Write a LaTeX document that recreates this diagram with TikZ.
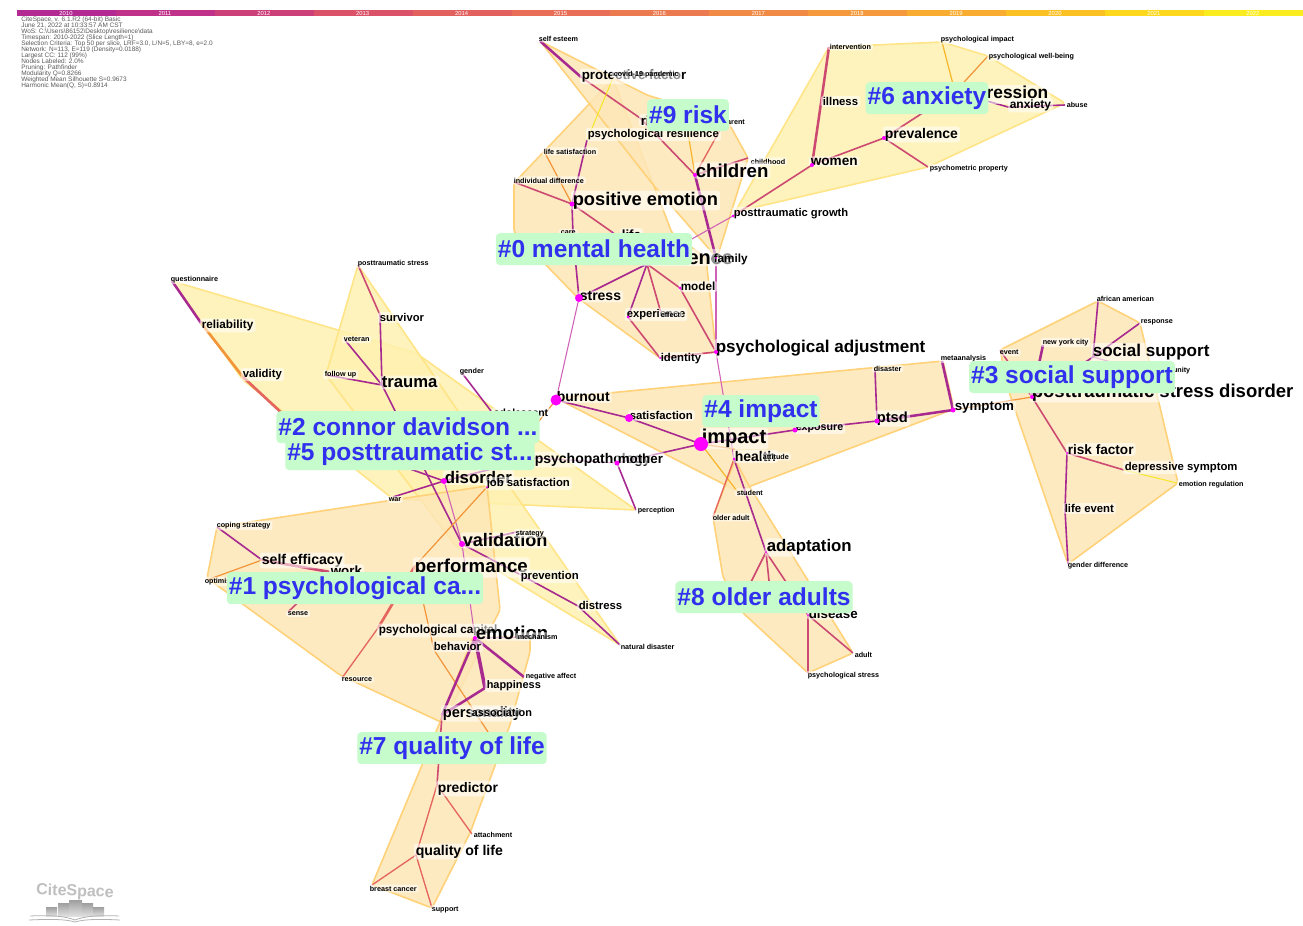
\documentclass[tikz,border=0pt]{standalone}
\usepackage{fontspec}
\setmainfont{Liberation Sans}
\usetikzlibrary{calc}
\definecolor{ePur}{HTML}{A82A90}
\definecolor{eMag}{HTML}{B83088}
\definecolor{eRed}{HTML}{CC4A72}
\definecolor{eCor}{HTML}{E4665C}
\definecolor{eOra}{HTML}{F29438}
\definecolor{eAmb}{HTML}{F8B52A}
\definecolor{eYel}{HTML}{F6E61E}
\definecolor{ePnk}{HTML}{CF62B6}
\definecolor{hullO}{HTML}{FDE6B6}
\definecolor{hullY}{HTML}{FEF1B0}
\definecolor{lineO}{HTML}{FFD27A}
\definecolor{lineY}{HTML}{FFE587}
\definecolor{tagBg}{HTML}{C6FBCB}
\definecolor{tagFg}{HTML}{3030EE}
\definecolor{dotM}{RGB}{255,0,255}
\tikzset{
  hullo/.style={fill=hullO,fill opacity=.85,draw=lineO,line width=1.2pt,line join=round,rounded corners=2pt},
  hully/.style={fill=hullY,fill opacity=.85,draw=lineY,line width=1.2pt,line join=round,rounded corners=2pt},
  dotn/.style={circle,fill=dotM,inner sep=0pt,minimum size=#1},
  tx/.style={font=\bfseries\fontsize{#1}{#1}\selectfont,anchor=west,inner xsep=1.5pt,inner ysep=1pt,text=black,fill=white,fill opacity=.55,text opacity=1,rounded corners=2pt,xshift=-1.1pt,yshift=-1.1pt},
  tag/.style={font=\bfseries\fontsize{18.4}{20}\selectfont,fill=tagBg,text=tagFg,rounded corners=3pt,inner xsep=1.5pt,inner ysep=0pt,minimum height=24pt,yshift=-.9pt},
  tick/.style={font=\fontsize{4.4}{4.4}\selectfont,text=white,inner sep=0pt},
  info/.style={font=\fontsize{4.85}{4.85}\selectfont,text=black!65,anchor=west,inner sep=0pt},
  ep/.style={ePur,line width=1.2pt},
  eP/.style={ePur,line width=1.9pt},
  er/.style={eRed,line width=1.2pt},
  eR/.style={eCor,line width=2pt},
  ec/.style={eCor,line width=1pt},
  eo/.style={eOra,line width=.9pt},
  ea/.style={eAmb,line width=.9pt},
  ey/.style={eYel,line width=.7pt},
  ek/.style={ePnk,line width=.8pt},
}
\begin{document}
\begin{tikzpicture}[x=0.75pt,y=-0.75pt]
\useasboundingbox (0,0) rectangle (1303,925);
% timeline
\foreach \i/\c/\yy in {0/B22A92/2010,1/C0318A/2011,2/CC3F78/2012,3/DA5168/2013,4/E2605E/2014,5/E86E58/2015,6/EC7A50/2016,7/F08A45/2017,8/F49A3C/2018,9/F8AC30/2019,10/FBC024/2020,11/FDD81C/2021,12/FBEC20/2022}{
  \definecolor{segc}{HTML}{\c}
  \fill[segc] ({17+98.9*\i},9.5) rectangle ({17+98.9*(\i+1)},16);
  \node[tick] (yr\yy) at ({66+98.9*\i},13) {\yy};
}
% info
\node[info] (i1) at (21,19.5) {CiteSpace, v. 6.1.R2 (64-bit) Basic};
\node[info] (i2) at (21,25.5) {June 21, 2022 at 10:33:57 AM CST};
\node[info] (i3) at (21,31.5) {WoS: C:\textbackslash Users\textbackslash 86152\textbackslash Desktop\textbackslash resilience\textbackslash data};
\node[info] (i4) at (21,37.5) {Timespan: 2010-2022 (Slice Length=1)};
\node[info] (i5) at (21,43.5) {Selection Criteria: Top 50 per slice, LRF=3.0, L/N=5, LBY=8, e=2.0};
\node[info] (i6) at (21,49.5) {Network: N=113, E=119 (Density=0.0188)};
\node[info] (i7) at (21,55.5) {Largest CC: 112 (99\%)};
\node[info] (i8) at (21,61.5) {Nodes Labeled: 2.0\%};
\node[info] (i9) at (21,67.5) {Pruning: Pathfinder};
\node[info] (i10) at (21,73.5) {Modularity Q=0.8266};
\node[info] (i11) at (21,79.5) {Weighted Mean Silhouette S=0.9673};
\node[info] (i12) at (21,85.5) {Harmonic Mean(Q, S)=0.8914};
% hulls
\draw[hully] (172,281)--(416,353)--(636,510)--(393,499)--(243,380)--cycle;
\draw[hully] (358,265)--(510,487)--(620,645)--(455,545)--(326,375)--cycle;
\draw[hullo] (217,527)--(393,500)--(487,486)--(500,610)--(443,723)--(340,675)--(207,578)--cycle;
\draw[hullo] (473,637)--(530,637)--(530,652)--(510,725)--(470,833)--(432,908)--(372,885)--(440,722)--cycle;
\draw[hullo] (613,79)--(514,183)--(514,232)--(578,298)--(660,358)--(716,352)--(706,258)--(672,233)--cycle;
\draw[hullo] (540,41)--(647,95)--(727,120)--(748,158)--(717,258)--(655,187)--cycle;
\draw[hully] (735,212)--(829,47)--(942,42)--(988,56)--(1065,103)--(928,167)--cycle;
\draw[hullo] (1000,350)--(1098,301)--(1140,323)--(1178,483)--(1068,564)--(1010,395)--cycle;
\draw[hullo] (556,398)--(943,361)--(954,409)--(748,487)--(737,491)--cycle;
\draw[hullo] (735,460)--(748,484)--(853,653)--(808,673)--(742,612)--(723,577)--(713,517)--cycle;
% free ends
\coordinate (hidA) at (530,432);
\coordinate (hidB) at (490,735);
\coordinate (hidC) at (742,600);
\coordinate (hidD) at (771,600);
\coordinate (hidE) at (300,430);
\coordinate (psyresEnd) at (688,133);
% edges (named points first, drawn beneath dots)
\foreach \n/\x/\y in {
 selfesteem/540/41, protective/581/77, risk/640/118, children/695/175, family/716/258, psyres/587/140, childhood/748/158, parent/720/130, covid/613/78,
 posemo/572/204, lifesat/545/153, inddiff/514/182, care/573/235, life/612/232, resil/647/264, stress/579/298, model/680/288, experience/628/317, effect/661/313, identity/660/358, psyadj/716/352,
 postgrowth/733/216, women/812/165, illness/821/103, intervention/829/47, prevalence/884/138, psychometric/928/167, depression/955/92, anxiety/1008/107, abuse/1065/105, psyimpact/942/42, wellbeing/988/56,
 burnout/556/400, satisfaction/629/418, impact/701/444, exposure/795/430, ptsd/877/421, disaster/875/370, symptom/953/410, meta/942/361, health/734/459, attitude/735/449, student/737/491, olderadult/713/517, adaptation/766/552, disease/808/615, adult/853/653, psystress/808/673,
 ptsdis/1032/397, riskfac/1067/453, lifeevent/1065/510, gender2/1068/564, depsym/1124/470, emoreg/1177/483, socsup/1093/357, afram/1098/301, response/1140/323, nyc/1043/345, event/1000/350, community/1136/369,
 question/172/281, reliab/201/323, validity/243/377, poststress/358/265, survivor/380/315, trauma/382/385, veteran/345/340, followup/327/375, gender/462/373, adolescent/491/411,
 disorder/444/481, war/393/497, jobsat/487/487, validation/462/544, strategy/517/532, performance/415/566, prevention/521/575, distress/578/606, natdis/620/645, psychopath/535/458, mother/617/463, perception/636/510,
 coping/217/527, selfeff/262/560, work/330/572, optimism/207/580, sense/288/612, psycap/378/628, resource/342/678,
 emotion/475/638, behavior/434/650, associat/471/711, happiness/485/688, negaff/524/677, mindful/530/637, personality/442/715, predictor/437/785, attachment/472/834, qol/416/855, support/432/908, breast/372/885}{
  \coordinate (\n) at (\x,\y);
}
\draw[eP] (selfesteem)--(protective);
\draw[er] (protective)--(risk);
\draw[er] (risk)--(children);
\draw[eP] (children)--(family);
\draw[ea] (psyresEnd)--(children);
\draw[ec] (parent)--(children);
\draw[er] (childhood)--(children);
\draw[ey] (psyres)--(covid);
\draw[ep] (posemo)--(psyres);
\draw[eo] (posemo)--(lifesat);
\draw[er] (posemo)--(inddiff);
\draw[ep] (posemo)--(care);
\draw[ep] (care)--(stress);
\draw[er] (posemo)--(life);
\draw[ep] (life)--(resil);
\draw[ep] (resil)--(stress);
\draw[ep] (resil)--(experience);
\draw[er] (resil)--(effect);
\draw[er] (resil)--(model);
\draw[er] (experience)--(identity);
\draw[er] (model)--(psyadj);
\draw[er] (identity)--(psyadj);
\draw[ek] (stress)--(burnout);
\draw[ek] (family)--(psyadj);
\draw[ek] (psyadj)--(health);
\draw[ek] (resil)--(postgrowth);
\draw[er] (postgrowth)--(women);
\draw[eP,eRed] (women)--(illness);
\draw[eP,eRed] (illness)--(intervention);
\draw[er] (women)--(prevalence);
\draw[er] (prevalence)--(psychometric);
\draw[er] (prevalence)--(depression);
\draw[ep] (depression)--(anxiety);
\draw[ep] (anxiety)--(abuse);
\draw[ea] (psyimpact)--(depression);
\draw[eo] (wellbeing)--(depression);
\draw[ep] (burnout)--(satisfaction);
\draw[ep] (satisfaction)--(impact);
\draw[eo] (burnout)--(hidA);
\draw[ep] (impact)--(exposure);
\draw[ep] (exposure)--(ptsd);
\draw[eP] (ptsd)--(symptom);
\draw[ep] (ptsd)--(disaster);
\draw[eP] (symptom)--(meta);
\draw[eo] (symptom)--(ptsdis);
\draw[er] (ptsdis)--(riskfac);
\draw[ep] (riskfac)--(lifeevent);
\draw[ep] (lifeevent)--(gender2);
\draw[er] (riskfac)--(depsym);
\draw[ey] (depsym)--(emoreg);
\draw[ep] (socsup)--(afram);
\draw[ep] (socsup)--(response);
\draw[ek] (socsup)--(community);
\draw[ep] (socsup)--(ptsdis);
\draw[eP] (nyc)--(ptsdis);
\draw[er] (event)--(ptsdis);
\draw[eo] (impact)--(attitude);
\draw[ea] (impact)--(student);
\draw[ec] (health)--(olderadult);
\draw[ep] (health)--(adaptation);
\draw[er] (adaptation)--(disease);
\draw[er] (adaptation)--(hidC);
\draw[er] (adaptation)--(hidD);
\draw[er] (disease)--(adult);
\draw[er] (disease)--(psystress);
\draw[ep] (impact)--(mother);
\draw[ep] (mother)--(perception);
\draw[ek] (mother)--(psychopath);
\draw[ep] (psychopath)--(disorder);
\draw[eP] (question)--(reliab);
\draw[eR,eOra] (reliab)--(validity);
\draw[eR] (validity)--(hidE);
\draw[ep] (hidE)--(disorder);
\draw[er] (poststress)--(survivor);
\draw[ep] (survivor)--(trauma);
\draw[ep] (veteran)--(trauma);
\draw[ep] (followup)--(trauma);
\draw[ep] (trauma)--(validation);
\draw[ep] (gender)--(adolescent);
\draw[ep] (disorder)--(war);
\draw[ek] (disorder)--(validation);
\draw[eo] (jobsat)--(performance);
\draw[ep] (validation)--(strategy);
\draw[ep] (validation)--(prevention);
\draw[ep] (prevention)--(distress);
\draw[ep] (distress)--(natdis);
\draw[ek] (validation)--(emotion);
\draw[eR] (performance)--(psycap);
\draw[ec] (psycap)--(resource);
\draw[ep] (coping)--(selfeff);
\draw[eo] (optimism)--(selfeff);
\draw[eR,eRed] (selfeff)--(work);
\draw[er] (work)--(sense);
\draw[eo] (performance)--(behavior);
\draw[eo] (behavior)--(hidB);
\draw[eP] (emotion)--(personality);
\draw[eP,line width=2.6pt] (emotion)--(happiness);
\draw[eP] (emotion)--(negaff);
\draw[ek] (emotion)--(mindful);
\draw[eP] (happiness)--(personality);
\draw[er] (personality)--(predictor);
\draw[ec] (predictor)--(attachment);
\draw[ec] (predictor)--(qol);
\draw[ec] (qol)--(support);
\draw[ec] (qol)--(breast);
% labels
\foreach \n/\x/\y/\s/\t in {
 lselfesteem/538/37/5.4/self esteem,
 lprotective/581/75/10/protective factor,
 lcovid/613/73/5.4/covid-19 pandemic,
 lrisk/640/119/10/risk,
 lparent/722/121/5.4/parent,
 lpsyres/587/133/8.5/psychological resilience,
 lchildhood/750/160/5.4/childhood,
 lchildren/695/169/14/children,
 llifesat/543/150/5.4/life satisfaction,
 linddiff/513/179/5.4/individual difference,
 lposemo/572/199/13.7/positive emotion,
 lcare/560/231/5.4/care,
 llife/621/233/10/life,
 lpostgrowth/733/212/8.4/posttraumatic growth,
 lresil/640/256/15/resilience,
 lfamily/713/258/8.8/family,
 lstress/579/295/10.5/stress,
 lmodel/680/285/8.8/model,
 lexperience/626/313/8.4/experience,
 leffect/660/313/5.4/effect,
 lidentity/660/357/8.5/identity,
 lpsyadj/715/347/12.8/psychological adjustment,
 lintervention/829/45/5.4/intervention,
 lpsyimpact/940/38/5.4/psychological impact,
 lwellbeing/988/55/5.4/psychological well-being,
 lillness/822/100/8.5/illness,
 ldepression/955/93/13/depression,
 lanxiety/1009/104/9/anxiety,
 labuse/1066/103/5.4/abuse,
 lprevalence/884/133/10.5/prevalence,
 lwomen/810/160/10.2/women,
 lpsychometric/929/167/5.4/psychometric property,
 lquestion/170/278/5.4/questionnaire,
 lposts/357/262/5.4/posttraumatic stress,
 lreliab/201/324/8.8/reliability,
 lsurvivor/379/316/8.4/survivor,
 lveteran/343/338/5.4/veteran,
 lfollowup/324/373/5.4/follow up,
 lvalidity/242/373/8.5/validity,
 ltrauma/381/381/12.5/trauma,
 lgender/459/370/5.4/gender,
 ladolescent/493/411/7.8/adolescent,
 lburnout/556/395/10.5/burnout,
 lsatisfaction/629/414/8.5/satisfaction,
 limpact/701/437/15/impact,
 lexposure/795/427/8/exposure,
 lptsd/876/417/11/ptsd,
 ldisaster/873/367/5.4/disaster,
 lmeta/940/357/5.4/metaanalysis,
 lsymptom/954/406/10/symptom,
 lhealth/734/455/10.5/health,
 lattitude/762/455/5.4/attitude,
 lstudent/736/491/5.4/student,
 lolderadult/712/516/5.4/older adult,
 ladaptation/766/546/12.6/adaptation,
 ldisease/808/612/10/disease,
 ladult/854/653/5.4/adult,
 lpsystress/807/674/5.4/psychological stress,
 lafram/1096/297/5.4/african american,
 lresponse/1140/321/5.4/response,
 lnyc/1042/341/5.4/new york city,
 levent/999/351/5.4/event,
 lsocsup/1092/351/12.8/social support,
 lcommunity/1151/369/5.4/community,
 lptsdis/1031/391/13.9/posttraumatic stress disorder,
 lriskfac/1067/448/10.2/risk factor,
 ldepsym/1124/466/8.5/depressive symptom,
 lemoreg/1178/483/5.4/emotion regulation,
 llifeevent/1064/507/8.5/life event,
 lgender2/1067/564/5.4/gender difference,
 lpsychopath/534/458/10.5/psychopathology,
 lmother/617/457/10/mother,
 ldisorder/444/476/12.6/disorder,
 ljobsat/486/482/8.5/job satisfaction,
 lwar/388/498/5.4/war,
 lperception/637/509/5.4/perception,
 lvalidation/462/539/13.6/validation,
 lstrategy/515/532/5.4/strategy,
 lperformance/414/566/14/performance,
 lprevention/520/575/8.5/prevention,
 ldistress/578/604/8.5/distress,
 lnatdis/620/645/5.4/natural disaster,
 lcoping/216/524/5.4/coping strategy,
 lselfeff/261/559/10.6/self efficacy,
 lwork/330/569/10/work,
 loptimism/204/580/5.4/optimism,
 lsense/287/612/5.4/sense,
 lpsycap/378/629/8.8/psychological capital,
 lresource/341/678/5.4/resource,
 lemotion/475/631/14/emotion,
 lmindful/517/635/5.4/mechanism,
 lbehavior/433/645/8.5/behavior,
 lnegaff/525/675/5.4/negative affect,
 lhappiness/486/684/8.2/happiness,
 lpersonality/442/712/11/personality,
 lassociat/471/711/8.2/association,
 lpredictor/437/787/10.4/predictor,
 lattachment/473/833/5.4/attachment,
 lqol/415/850/10.6/quality of life,
 lbreast/369/887/5.4/breast cancer,
 lsupport/431/908/5.4/support}{
  \node[tx=\s] (\n) at (\x,\y) {\t};
}
% dots
\foreach \n/\s in {children/4,posemo/5,stress/8,burnout/11,satisfaction/8,impact/14,exposure/5,ptsd/5,symptom/5,disorder/6,validation/6,mother/5,women/4,prevalence/4,emotion/4,postgrowth/3,model/3,experience/3,psyadj/4,ptsdis/4,identity/2,health/3,jobsat/2,family/2,resil/2,care/1,life/1,disease/2,adaptation/2,riskfac/2}{
  \node[dotn=\s*0.75pt] (d\n) at (\n) {};
}
% cluster tags
\node[tag] (c0) at (594,248) {\#0 mental health};
\node[tag] (c9) at (688,114) {\#9 risk};
\node[tag] (c6) at (927,97) {\#6 anxiety};
\node[tag] (c3) at (1072,376) {\#3 social support};
\node[tag] (c4) at (761,410) {\#4 impact};
\node[tag] (c2) at (408,426) {\#2 connor davidson ...};
\node[tag] (c5) at (410,453) {\#5 posttraumatic st...};
\node[tag] (c1) at (355,587) {\#1 psychological ca...};
\node[tag] (c8) at (764,596) {\#8 older adults};
\node[tag] (c7) at (452,747) {\#7 quality of life};
% logo
\node[font=\bfseries\fontsize{12}{13}\selectfont,text=black!25,rotate=-2] (logo) at (75,892) {CiteSpace};
\foreach \x/\yt/\w in {46/907/11,58/903/11,69/900/13,82/903/11,93/907/11}{
  \shade[top color=black!38,bottom color=black!12] (\x,\yt) rectangle ({\x+\w},916);
}
\draw[black!30,line width=.6pt] (30,916) .. controls (50,915) and (65,916) .. (75,920) .. controls (85,916) and (100,915) .. (119,916);
\draw[black!30,line width=.6pt] (29,920) .. controls (50,919) and (65,919) .. (75,922) .. controls (85,919) and (100,919) .. (120,920);
\end{tikzpicture}
\end{document}
